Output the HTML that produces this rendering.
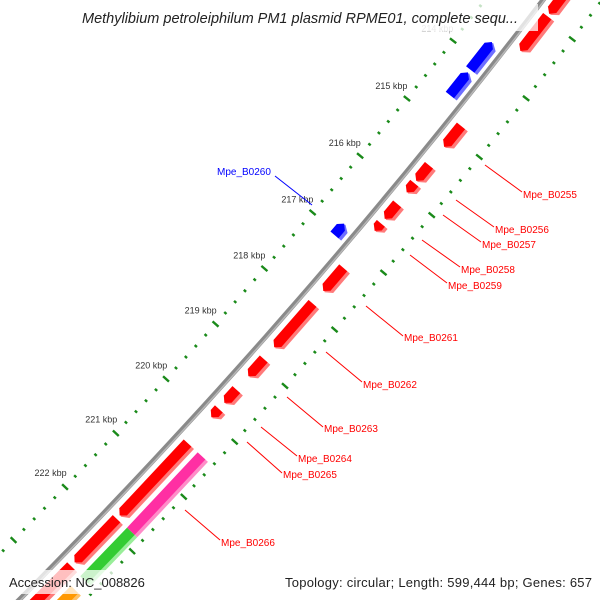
<!DOCTYPE html>
<html>
<head>
<meta charset="utf-8">
<style>
html,body{margin:0;padding:0;background:#fff;width:600px;height:600px;overflow:hidden;}
svg{display:block;overflow:hidden;}
text{font-family:"Liberation Sans","DejaVu Sans",sans-serif;}
</style>
</head>
<body>
<svg id="map" width="600" height="600" viewBox="0 0 600 600" xmlns="http://www.w3.org/2000/svg">
  <rect x="0" y="0" width="600" height="600" fill="#ffffff"/>
  <g id="ticks"></g>
  <g id="backbone"></g>
  <g id="features"></g>
  <g id="labels"></g>
  <g>
    <rect x="62" y="4" width="476" height="27" fill="#ffffff" fill-opacity="0.75"/>
    <text x="300" y="23" text-anchor="middle" font-size="14.5" font-style="italic" fill="#222">Methylibium petroleiphilum PM1 plasmid RPME01, complete sequ...</text>
  </g>
  <g>
    <rect x="4" y="570" width="150" height="24" fill="#ffffff" fill-opacity="0.75"/>
    <text x="9" y="587" font-size="13" fill="#222">Accession: NC_008826</text>
    <rect x="280" y="570" width="316" height="24" fill="#ffffff" fill-opacity="0.75"/>
    <text x="592" y="587" text-anchor="end" font-size="13" textLength="307" fill="#222">Topology: circular; Length: 599,444 bp; Genes: 657</text>
  </g>
</svg>
<script>
// ---- data (kbp) ----
const featStart = [211.71, 212.96, 214.83, 215.51, 215.82, 216.18, 216.52, 217.30, 217.93, 218.92, 219.47, 219.82, 220.44, 221.83, 222.71, 213.69, 214.21, 216.84, 220.44, 221.82, 222.90, 223.20];
const featEnd   = [212.92, 213.55, 215.19, 215.78, 215.98, 216.44, 216.65, 217.71, 218.71, 219.23, 219.71, 219.97, 221.77, 222.64, 224.73, 214.16, 214.60, 217.04, 221.82, 222.72, 223.20, 223.60];
const featStrand = [1,1,1,1,1,1,1,1,1,1,1,1,1,1,1,-1,-1,-1,0,0,0,0];
const featRing   = [1,1,1,1,1,1,1,1,1,1,1,1,1,1,1,-1,-1,-1,2,2,2,2];
const featColor  = ['red','red','red','red','red','red','red','red','red','red','red','red','red','red','red','blue','blue','blue','pink','green','orange','purple'];
const tickKbpStart = 210;
const tickKbpEnd = 226;
const tickStep = 0.2;
const tickLabelKbp = [214,215,216,217,218,219,220,221,222];
const labelNames = ['Mpe_B0255','Mpe_B0256','Mpe_B0257','Mpe_B0258','Mpe_B0259','Mpe_B0261','Mpe_B0262','Mpe_B0263','Mpe_B0264','Mpe_B0265','Mpe_B0266','Mpe_B0260'];

// ---- geometry ----
const R = 6200;
const th0 = 41.03*Math.PI/180;
const mx = 298, my = 300;
const cx = mx - R*Math.cos(th0), cy = my - R*Math.sin(th0);
const pxPerKbp = 74.5;
function sOf(kbp){ return (kbp-218)*pxPerKbp - 1.7; }
function P(r, s){ const th = th0 + s/R; return [cx + r*Math.cos(th), cy + r*Math.sin(th)]; }
const NS = 'http://www.w3.org/2000/svg';
function mk(tag, attrs, parent){ const e=document.createElementNS(NS,tag); for(const k in attrs) e.setAttribute(k,attrs[k]); parent.appendChild(e); return e; }
function pts(list){ return list.map(p=>p[0].toFixed(2)+','+p[1].toFixed(2)).join(' '); }

// ---- ticks ----
const tg = document.getElementById('ticks');
const nT = Math.round((tickKbpEnd-tickKbpStart)/tickStep);
[6154, 6247].forEach((rr)=>{
  for(let i=0;i<=nT;i++){
    const kbp = tickKbpStart + i*tickStep;
    const major = (i % 5) === 0;
    const s = sOf(kbp);
    const half = major ? 4 : 1.5;
    const a = P(rr-half, s), b = P(rr+half, s);
    const ln = mk('line',{x1:a[0],y1:a[1],x2:b[0],y2:b[1],stroke:'#1a8a1a','stroke-width':2.4},tg);
    
    
  }
});
tickLabelKbp.forEach(k=>{
  const p = P(6134, sOf(k));
  const t = mk('text',{x:p[0],y:p[1]+3,'text-anchor':'middle','font-size':'9',fill:'#333'},tg);
  if(k===214) t.setAttribute('fill','#aaa');
  t.textContent = k + ' kbp';
  
  
});

// ---- backbone ----
const bg = document.getElementById('backbone');
function arcPath(r, s0, s1){ let d=''; for(let i=0;i<=40;i++){ const p=P(r, s0+(s1-s0)*i/40); d += (i?'L':'M')+p[0].toFixed(2)+' '+p[1].toFixed(2); } return d; }
const bb1 = mk('path',{d:arcPath(6200,-480,480),fill:'none',stroke:'#8a8a8a','stroke-width':5},bg);


const bb2 = mk('path',{d:arcPath(6201.3,-480,480),fill:'none',stroke:'#b8b8b8','stroke-width':1.5},bg);



// ---- features ----
const colors = {
  red:['#ff0000','#ff7a7a'], blue:['#0000ff','#6e6eff'], pink:['#ff2fa3','#ff8cc8'],
  green:['#33cc33','#99ee99'], orange:['#ff9900','#ffc266'], purple:['#aa22aa','#d080d0']
};
const ringR = {'1':[6208,6222], '-1':[6180,6194], '2':[6227,6241]};
const fg = document.getElementById('features');
function shape(r1, r2, s0, s1, strand){
  const rm = (r1+r2)/2, h = Math.min(5, (s1-s0)*0.5);
  if(strand===1) return [P(r1,s0),P(r1,s1-h),P(rm,s1),P(r2,s1-h),P(r2,s0)];
  if(strand===-1) return [P(r1,s1),P(r1,s0+h),P(rm,s0),P(r2,s0+h),P(r2,s1)];
  return [P(r1,s0),P(r1,s1),P(r2,s1),P(r2,s0)];
}
for(let i=0;i<featStart.length;i++){
  const s0 = sOf(featStart[i]), s1 = sOf(featEnd[i]);
  const rr = ringR[String(featRing[i])];
  const c = colors[featColor[i]];
  const g = mk('g',{},fg);
  
  
  const light = mk('polygon',{points:pts(shape(rr[0],rr[1],s0,s1,featStrand[i])),fill:c[1]},g);
  
  
  const main = mk('polygon',{points:pts(shape(rr[0],rr[1]-3.5,s0,s1,featStrand[i])),fill:c[0]},g);
  
  
}

// ---- labels ----
const lg = document.getElementById('labels');
const labelLines = [[485,165,522,192],[456,200,494,227],[443,215,481,242],[422,240,460,267],[410,255,447,283],[366,306,403,336],[326,352,362,382],[287,397,323,427],[261,427,297,456],[247,442,282,473],[185,510,220,540],[275,176,312,205]];
const labelPos = [[523,198],[495,233],[482,248],[461,273],[448,289],[404,341],[363,388],[324,432],[298,462],[283,478],[221,546],[217,175]];
labelNames.forEach((nm,i)=>{
  const col = nm==='Mpe_B0260' ? '#0000ff' : '#ff0000';
  const L = labelLines[i];
  const ln = mk('line',{x1:L[0],y1:L[1],x2:L[2],y2:L[3],stroke:col,'stroke-width':1},lg);
  
  
  const t = mk('text',{x:labelPos[i][0],y:labelPos[i][1],'font-size':'10',fill:col},lg);
  t.textContent = nm;
  
  
});
</script>
</body>
</html>
